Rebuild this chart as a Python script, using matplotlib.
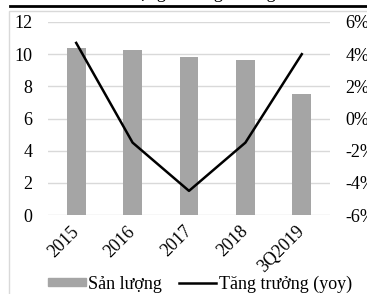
import matplotlib.pyplot as plt
import numpy as np
from matplotlib.lines import Line2D
from matplotlib.patches import Patch

plt.rcParams['font.family'] = ['Liberation Serif', 'DejaVu Serif']

years = ['2015', '2016', '2017', '2018', '3Q2019']
san_luong = [10.4, 10.25, 9.8, 9.65, 7.5]
tang_truong = [4.7, -1.5, -4.5, -1.5, 4.0]

fig = plt.figure(figsize=(3.67, 2.94), dpi=100)
ax = fig.add_axes([48/367, 1-215/294, 282/367, 193/294])
x = np.arange(len(years))

ax.bar(x, san_luong, width=0.33, color='#a5a5a5', zorder=2)
ax.set_ylim(0, 12)
ax.set_yticks(range(0, 13, 2))
ax.set_xlim(-0.5, len(years)-0.5)
ax.grid(axis='y', color='#d9d9d9', linewidth=1, zorder=0)
for s in ax.spines.values():
    s.set_visible(False)
ax.tick_params(length=0, labelsize=13)
ax.tick_params(axis='y', pad=11)
ax.set_xticks(x)
ax.set_xticklabels(years, rotation=45, ha='right', va='center', rotation_mode='anchor')
ax.tick_params(axis='x', pad=10)

ax2 = ax.twinx()
ax2.plot(x, tang_truong, color='black', linewidth=1.8, zorder=3)
ax2.set_ylim(-6, 6)
ax2.set_yticks(range(-6, 7, 2))
ax2.set_yticklabels([f'{v}%' for v in range(-6, 7, 2)])
for s in ax2.spines.values():
    s.set_visible(False)
ax2.tick_params(length=0, labelsize=13, pad=11)

# chart frame and clipped title
fig.add_artist(plt.Rectangle((9/367, -0.1), 1, 1-11/294+0.1, transform=fig.transFigure,
                             fill=False, edgecolor='#d9d9d9', linewidth=1))
fig.add_artist(Line2D([10/367, 1], [1-6/294, 1-6/294], transform=fig.transFigure,
                      color='black', linewidth=2))
fig.text(0.5, 1+6/294, 'Sản lượng và tăng trưởng', ha='center', va='center', fontsize=13)

handles = [Patch(color='#a5a5a5'), Line2D([], [], color='black', linewidth=1.8)]
fig.legend(handles, ['Sản lượng', 'Tăng trưởng (yoy)'], loc='center',
           bbox_to_anchor=(0.545, 1-284/294), ncol=2, frameon=False, fontsize=13,
           handlelength=2.1, handleheight=0.3, columnspacing=0.9, handletextpad=0.15,
           borderpad=0)

fig.savefig('out.png', dpi=100)
